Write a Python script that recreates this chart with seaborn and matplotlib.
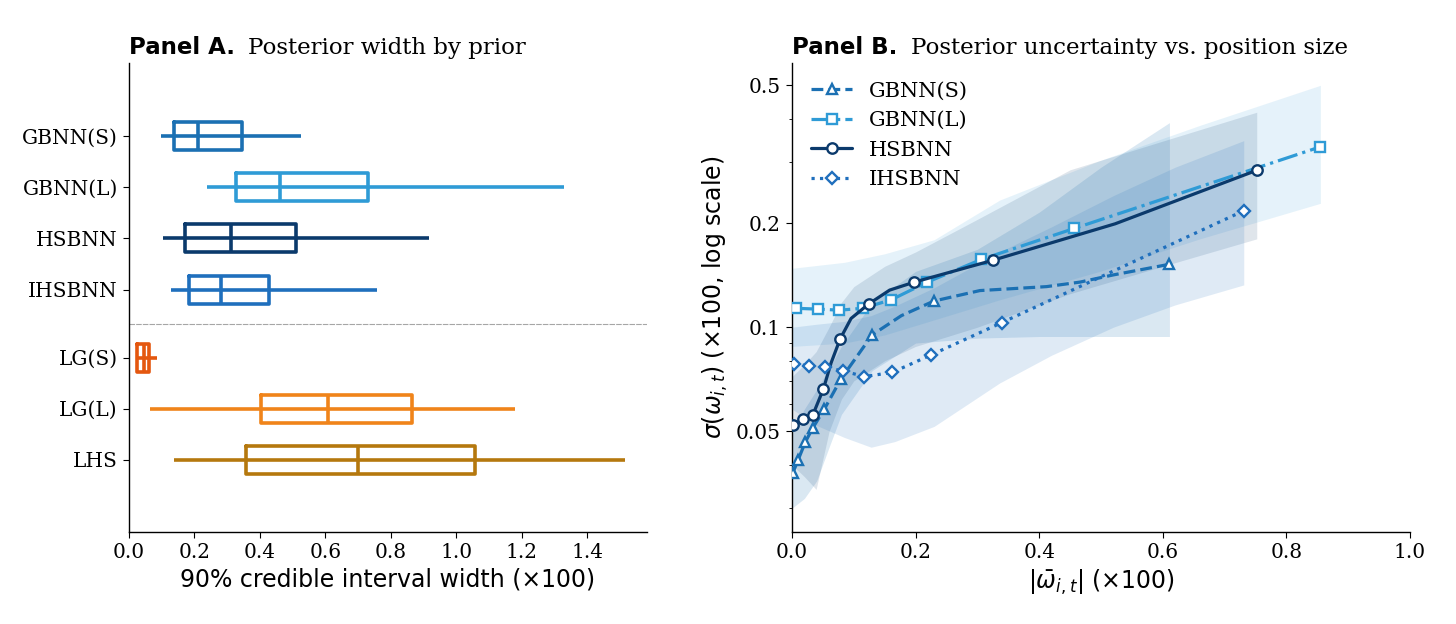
import numpy as np
import pandas as pd
import matplotlib
matplotlib.use("Agg")
import matplotlib.pyplot as plt
import seaborn as sns
from matplotlib.ticker import FixedLocator, FixedFormatter, LogLocator, NullFormatter

# ---------------- Panel A data (five-number summaries) ----------------
priors = ["GBNN(S)", "GBNN(L)", "HSBNN", "IHSBNN", "LG(S)", "LG(L)", "LHS"]
prior_pos = [0, 1, 2, 3, 4.33, 5.33, 6.33]
ci_low = [0.099, 0.238, 0.105, 0.128, 0.020, 0.063, 0.139]
ci_q1 = [0.136, 0.328, 0.171, 0.183, 0.024, 0.402, 0.358]
ci_med = [0.210, 0.462, 0.313, 0.281, 0.047, 0.609, 0.700]
ci_q3 = [0.346, 0.730, 0.509, 0.428, 0.060, 0.864, 1.058]
ci_high = [0.525, 1.329, 0.917, 0.759, 0.087, 1.181, 1.516]
prior_colors = ["#1b70b3", "#2f9bd6", "#0b3a6c", "#1f6fbd", "#e4570f", "#f0841a", "#b5780e"]

# ---------------- Panel B data ----------------
gbs_x = [0.001, 0.010, 0.0216, 0.0334, 0.0524, 0.0795, 0.1297, 0.177, 0.2296, 0.304, 0.412, 0.466, 0.519, 0.6107]
gbs_y = [0.0378, 0.0414, 0.0466, 0.0511, 0.058, 0.071, 0.095, 0.108, 0.119, 0.1276, 0.131, 0.135, 0.1415, 0.152]
gbs_mark = [0, 1, 2, 3, 4, 5, 6, 8, 13]

gbl_x = [0.0065, 0.0415, 0.0767, 0.1145, 0.1605, 0.219, 0.3065, 0.457, 0.855]
gbl_y = [0.1134, 0.1128, 0.112, 0.1134, 0.120, 0.135, 0.157, 0.193, 0.332]
gbl_mark = [0, 1, 2, 3, 4, 5, 6, 7, 8]

hs_x = [0.001, 0.0172, 0.0334, 0.0508, 0.0632, 0.0778, 0.0956, 0.124, 0.158, 0.198, 0.3245, 0.523, 0.752]
hs_y = [0.052, 0.0542, 0.0556, 0.0663, 0.0788, 0.0924, 0.106, 0.1167, 0.128, 0.135, 0.156, 0.199, 0.284]
hs_mark = [0, 1, 2, 3, 5, 7, 9, 10, 12]

ihs_x = [0.0037, 0.028, 0.0535, 0.082, 0.1172, 0.162, 0.2254, 0.339, 0.731]
ihs_y = [0.0782, 0.0774, 0.0765, 0.0748, 0.0720, 0.074, 0.0832, 0.103, 0.217]
ihs_mark = [0, 1, 2, 3, 4, 5, 6, 7, 8]

# uncertainty bands
gbs_bx = [0.0, 0.02, 0.04, 0.06, 0.08, 0.13, 0.2, 0.3, 0.4, 0.5, 0.6107]
gbs_lo = [0.030, 0.032, 0.036, 0.045, 0.056, 0.075, 0.090, 0.093, 0.094, 0.094, 0.094]
gbs_hi = [0.050, 0.058, 0.066, 0.076, 0.088, 0.118, 0.145, 0.168, 0.215, 0.29, 0.39]

gbl_bx = [0.0, 0.085, 0.15, 0.23, 0.336, 0.498, 0.66, 0.855]
gbl_lo = [0.088, 0.090, 0.095, 0.105, 0.12, 0.145, 0.18, 0.228]
gbl_hi = [0.148, 0.154, 0.163, 0.179, 0.233, 0.303, 0.383, 0.50]

hs_bx = [0.0, 0.02, 0.039, 0.06, 0.08, 0.1, 0.15, 0.2, 0.3, 0.45, 0.6, 0.752]
hs_lo = [0.040, 0.037, 0.034, 0.050, 0.062, 0.070, 0.080, 0.088, 0.100, 0.125, 0.150, 0.180]
hs_hi = [0.072, 0.078, 0.085, 0.100, 0.118, 0.131, 0.150, 0.165, 0.205, 0.285, 0.345, 0.418]

ihs_bx = [0.0, 0.04, 0.085, 0.128, 0.166, 0.23, 0.336, 0.42, 0.52, 0.62, 0.731]
ihs_lo = [0.058, 0.052, 0.048, 0.045, 0.0467, 0.0517, 0.069, 0.083, 0.100, 0.116, 0.1325]
ihs_hi = [0.100, 0.102, 0.104, 0.108, 0.115, 0.13, 0.165, 0.195, 0.24, 0.29, 0.346]

series_names = ["GBNN(S)", "GBNN(L)", "HSBNN", "IHSBNN"]
series_colors = ["#1b70b3", "#2f9bd6", "#0b3a6c", "#1f6fbd"]

# ---------------- style ----------------
sns.set_style("ticks")
plt.rcParams["font.family"] = ["DejaVu Serif"]
plt.rcParams["mathtext.fontset"] = "dejavusans"
plt.rcParams["axes.linewidth"] = 1.0
plt.rcParams["xtick.major.size"] = 4.5
plt.rcParams["ytick.major.size"] = 4.5
plt.rcParams["xtick.minor.size"] = 2.5
plt.rcParams["ytick.minor.size"] = 2.5
plt.rcParams["xtick.color"] = "black"
plt.rcParams["ytick.color"] = "black"
plt.rcParams["axes.edgecolor"] = "black"
plt.rcParams["text.color"] = "black"
plt.rcParams["axes.labelcolor"] = "black"

TICK = 14.5
LABEL = 17
TITLE = 16.5

W, H = 1456, 624
fig = plt.figure(figsize=(W / 100, H / 100), dpi=100)
axA = fig.add_axes([129 / W, 1 - 532 / H, (647 - 129) / W, (532 - 63) / H])
axB = fig.add_axes([792 / W, 1 - 532 / H, (1410 - 792) / W, (532 - 63) / H])

# ---------------- Panel A ----------------
rows = []
for name, pos, a, b, c, d, e in zip(priors, prior_pos, ci_low, ci_q1, ci_med, ci_q3, ci_high):
    for v in (a, b, c, d, e):
        rows.append({"prior": name, "pos": pos, "width": v})
dfA = pd.DataFrame(rows)
palA = dict(zip(priors, prior_colors))

axA.hlines(prior_pos, ci_q1, ci_q3, colors=prior_colors, lw=2.6, zorder=1)
sns.boxplot(data=dfA, x="width", y="pos", hue="prior", hue_order=priors, palette=palA,
            orient="y", native_scale=True, whis=(0, 100), fill=False, width=0.55,
            linewidth=2.6, dodge=False, showcaps=False, legend=False, ax=axA)

axA.axhline((prior_pos[3] + prior_pos[4]) / 2, color="0.65", lw=0.8, ls=(0, (5, 1)), zorder=0)
axA.set_xlim(0, 1.583)
axA.set_ylim(prior_pos[-1] + 1.41, prior_pos[0] - 1.43)
axA.set_yticks(prior_pos)
axA.set_yticklabels(priors)
axA.set_xticks(np.arange(0, 1.41, 0.2))
axA.set_xticklabels([f"{v:.1f}" for v in np.arange(0, 1.41, 0.2)])
axA.tick_params(labelsize=TICK)
axA.set_xlabel("90% credible interval width (×100)", fontsize=LABEL, fontfamily="DejaVu Sans")
axA.set_ylabel("")
sns.despine(ax=axA)

# ---------------- Panel B ----------------
bands = [(gbs_bx, gbs_lo, gbs_hi, 0.16), (gbl_bx, gbl_lo, gbl_hi, 0.12),
         (hs_bx, hs_lo, hs_hi, 0.13), (ihs_bx, ihs_lo, ihs_hi, 0.14)]
for (bx, lo, hi, al), col in zip(bands, series_colors):
    axB.fill_between(bx, lo, hi, color=col, alpha=al, lw=0, zorder=1)

line_specs = [
    (gbs_x, gbs_y, gbs_mark, "--", "^"),
    (gbl_x, gbl_y, gbl_mark, "-.", "s"),
    (hs_x, hs_y, hs_mark, "-", "o"),
    (ihs_x, ihs_y, ihs_mark, ":", "D"),
]
msizes = [7.5, 7, 7.5, 6.5]
for (x, y, mk, ls, m), name, col, ms in zip(line_specs, series_names, series_colors, msizes):
    sns.lineplot(x=x, y=y, ax=axB, color=col, linestyle=ls, lw=2.3, marker=m,
                 markevery=mk, markersize=ms, markerfacecolor="white",
                 markeredgecolor=col, markeredgewidth=1.7, label=name,
                 estimator=None, sort=False, zorder=3)

axB.set_yscale("log")
axB.set_xlim(0, 1.0)
axB.set_ylim(0.0256, 0.58)
axB.yaxis.set_major_locator(FixedLocator([0.05, 0.1, 0.2, 0.5]))
axB.yaxis.set_major_formatter(FixedFormatter(["0.05", "0.1", "0.2", "0.5"]))
axB.yaxis.set_minor_locator(LogLocator(base=10, subs=np.arange(2, 10)))
axB.yaxis.set_minor_formatter(NullFormatter())
axB.set_xticks(np.arange(0, 1.01, 0.2))
axB.set_xticklabels([f"{v:.1f}" for v in np.arange(0, 1.01, 0.2)])
axB.tick_params(labelsize=TICK)
axB.set_xlabel(r"$|\bar{\omega}_{i,t}|$ (×100)", fontsize=LABEL, fontfamily="DejaVu Sans")
axB.set_ylabel(r"$\sigma(\omega_{i,t})$ (×100, log scale)", fontsize=LABEL, fontfamily="DejaVu Sans")
leg = axB.legend(loc="upper left", frameon=False, handlelength=2.0,
                 labelspacing=0.5, prop={"family": "DejaVu Serif", "size": 15})
for txt in leg.get_texts():
    txt.set_color("black")
sns.despine(ax=axB)

# ---------------- titles ----------------
for ax, head, rest in [(axA, "Panel A.", "Posterior width by prior"),
                       (axB, "Panel B.", "Posterior uncertainty vs. position size")]:
    t = ax.text(0, 1.019, head, transform=ax.transAxes, fontsize=TITLE, fontweight="bold",
                fontfamily="DejaVu Sans", ha="left", va="baseline", color="black")
    ax.annotate(rest, xy=(1, 0), xycoords=t, xytext=(9.5, 0), textcoords="offset points",
                fontsize=TITLE, fontfamily="DejaVu Serif", ha="left", va="bottom", color="black")

fig.savefig("out.png", dpi=100)
